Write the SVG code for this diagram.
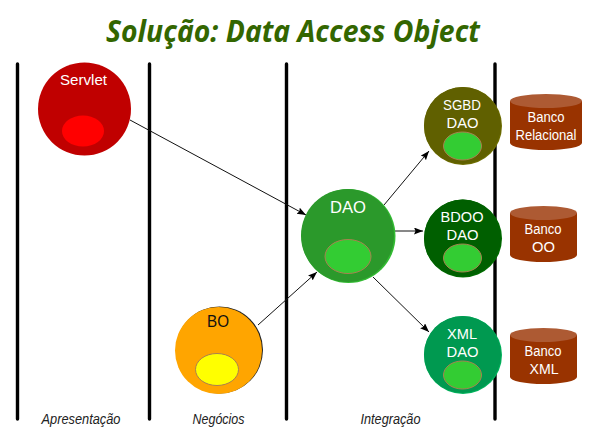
<svg xmlns="http://www.w3.org/2000/svg" width="592" height="433" viewBox="0 0 592 433">
<style>
text{font-family:"Liberation Sans","Noto Sans",sans-serif;text-anchor:middle}
.t{font-size:15.500px;fill:#fff}
.l{font-size:14px;font-style:italic;fill:#222}
.v{stroke:#000;stroke-width:3.4;stroke-linecap:round}
.c{stroke:#111;stroke-width:1;fill:none;marker-end:url(#a)}
.i{fill:#33cc33;stroke:#a98050;stroke-width:1}
.cb{fill:#993300}
.ct{fill:#ad5a33}
</style>
<defs><marker id="a" markerUnits="userSpaceOnUse" markerWidth="10" markerHeight="8" refX="9" refY="3.500" orient="auto"><path d="M0 0L9 3.500L0 7L1.500 3.500Z" fill="#000"/></marker></defs>
<rect width="592" height="433" fill="#fff"/>
<text x="293" y="42" textLength="374" lengthAdjust="spacingAndGlyphs" style="font-family:'Noto Sans','Liberation Sans',sans-serif;font-size:30px;font-weight:bold;font-style:italic;fill:#336600">Solução: Data Access Object</text>
<g id="lanes">
<line class="v" x1="17.5" y1="64" x2="17.5" y2="419"/>
<line class="v" x1="149.5" y1="64" x2="149.5" y2="419"/>
<line class="v" x1="286.5" y1="64" x2="286.5" y2="419"/>
<line class="v" x1="495" y1="64" x2="495" y2="419"/>
<text class="l" x="81" y="424" textLength="79" lengthAdjust="spacingAndGlyphs">Apresentação</text>
<text class="l" x="218.500" y="424" textLength="52" lengthAdjust="spacingAndGlyphs">Negócios</text>
<text class="l" x="390.500" y="424" textLength="60" lengthAdjust="spacingAndGlyphs">Integração</text>
</g>
<g id="connectors">
<path class="c" d="M130 120L306 215"/>
<path class="c" d="M258 325L317 272"/>
<path class="c" d="M384 205L429 151"/>
<path class="c" d="M393 231L423 231"/>
<path class="c" d="M373 277L429 332"/>
</g>
<g id="servlet"><circle cx="84.500" cy="109" r="46.500" fill="#c00000"/><ellipse cx="83" cy="131" rx="21" ry="15.500" fill="#ff0000"/><text class="t" x="83.500" y="85" textLength="47" lengthAdjust="spacingAndGlyphs">Servlet</text></g>
<g id="bo"><circle cx="219.500" cy="350" r="43.500" fill="#222"/><circle cx="218.500" cy="350.500" r="43.500" fill="#ffa500"/><ellipse cx="217" cy="369.500" rx="21.500" ry="16" fill="#ffff00" stroke="#a98050"/><text class="t" x="218" y="327" textLength="22" lengthAdjust="spacingAndGlyphs" style="fill:#111;font-size:17px">BO</text></g>
<g id="dao"><circle cx="348.500" cy="236" r="47" fill="#33bb33"/><circle cx="347.500" cy="235.500" r="46.500" fill="#2b992b"/><ellipse cx="348" cy="256.500" rx="23" ry="17" class="i"/><text class="t" x="348" y="213" textLength="36" lengthAdjust="spacingAndGlyphs" style="font-size:17px">DAO</text></g>
<g id="sgbd"><circle cx="463" cy="126" r="39" fill="#6e6e00"/><circle cx="462.500" cy="125.500" r="38.500" fill="#606000"/><ellipse cx="462.500" cy="146" rx="19" ry="14" class="i"/><text class="t" x="462" y="110" textLength="38" lengthAdjust="spacingAndGlyphs">SGBD</text><text class="t" x="462.500" y="128" textLength="32" lengthAdjust="spacingAndGlyphs">DAO</text></g>
<g id="bdoo"><circle cx="463" cy="238.500" r="39" fill="#006c00"/><circle cx="462.500" cy="238" r="38.500" fill="#005f00"/><ellipse cx="462.500" cy="258" rx="19" ry="14" class="i"/><text class="t" x="462" y="222" textLength="43" lengthAdjust="spacingAndGlyphs">BDOO</text><text class="t" x="462.500" y="240" textLength="32" lengthAdjust="spacingAndGlyphs">DAO</text></g>
<g id="xml"><circle cx="463" cy="355" r="39" fill="#00b35c"/><circle cx="462.500" cy="354.500" r="38.500" fill="#009950"/><ellipse cx="462.500" cy="375" rx="19" ry="14" class="i"/><text class="t" x="462" y="339" textLength="30" lengthAdjust="spacingAndGlyphs">XML</text><text class="t" x="462.500" y="357" textLength="32" lengthAdjust="spacingAndGlyphs">DAO</text></g>
<g id="banco-relacional"><path class="cb" d="M510 101V143A36 7 0 0 0 582 143V101Z"/><ellipse class="ct" cx="546" cy="101" rx="36" ry="7"/><text class="t" x="546" y="122" textLength="37" lengthAdjust="spacingAndGlyphs">Banco</text><text class="t" x="546" y="140" textLength="61" lengthAdjust="spacingAndGlyphs">Relacional</text></g>
<g id="banco-oo"><path class="cb" d="M510 213V255A33.500 7 0 0 0 577 255V213Z"/><ellipse class="ct" cx="543.500" cy="213" rx="33.500" ry="7"/><text class="t" x="543" y="234" textLength="37" lengthAdjust="spacingAndGlyphs">Banco</text><text class="t" x="543.500" y="252" textLength="23" lengthAdjust="spacingAndGlyphs">OO</text></g>
<g id="banco-xml"><path class="cb" d="M510 335V377A33.500 7 0 0 0 577 377V335Z"/><ellipse class="ct" cx="543.500" cy="335" rx="33.500" ry="7"/><text class="t" x="543" y="356" textLength="37" lengthAdjust="spacingAndGlyphs">Banco</text><text class="t" x="544" y="374" textLength="29" lengthAdjust="spacingAndGlyphs">XML</text></g>
</svg>
